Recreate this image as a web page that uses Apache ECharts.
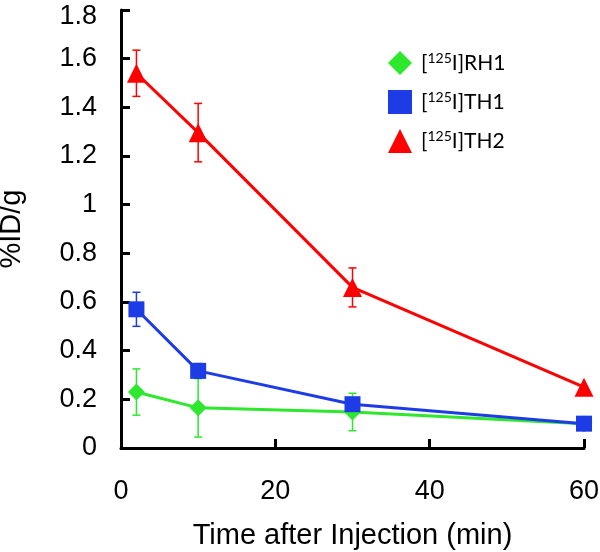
<!DOCTYPE html>
<html><head><meta charset="utf-8">
<script src="https://cdn.jsdelivr.net/npm/echarts@6/dist/echarts.min.js"></script>
<style>html,body{margin:0;padding:0;background:#fff}#c{width:600px;height:552px}</style>
</head><body><div id="c"></div>
<script>
const times = [2, 10, 30, 60];
const seriesNames = ['RH1', 'TH1', 'TH2'];
const rh1 = [0.23, 0.165, 0.148, 0.10];
const rh1Err = [0.095, 0.12, 0.077, 0];
const th1 = [0.57, 0.317, 0.18, 0.10];
const th1Err = [0.07, 0.03, 0.02, 0];
const th2 = [1.54, 1.296, 0.66, 0.25];
const th2Err = [0.095, 0.12, 0.08, 0];
const xTicks = [0, 20, 40, 60];
const yTicks = [0, 0.2, 0.4, 0.6, 0.8, 1, 1.2, 1.4, 1.6, 1.8];

const colors = ['#2de82d', '#1e3ce6', '#ff0000'];
const symbols = ['diamond', 'rect', 'triangle'];
const symSizes = [17, 16, 19];
const vals = [rh1, th1, th2];
const errs = [rh1Err, th1Err, th2Err];
const FONT = '"Liberation Sans", Arial, sans-serif';
const LFONT = 'Lato, "Liberation Sans", sans-serif';

const series = [];
vals.forEach((v, s) => {
  series.push({
    type: 'custom',
    z: 1,
    silent: true,
    clip: false,
    data: times.map((t, i) => [t, v[i] - errs[s][i], v[i] + errs[s][i]]),
    renderItem: function (params, api) {
      const lo = api.coord([api.value(0), api.value(1)]);
      const hi = api.coord([api.value(0), api.value(2)]);
      const hw = 4;
      const st = { stroke: colors[s], lineWidth: 1.5 };
      return {
        type: 'group',
        children: [
          { type: 'line', shape: { x1: lo[0], y1: lo[1], x2: hi[0], y2: hi[1] }, style: st },
          { type: 'line', shape: { x1: lo[0] - hw, y1: lo[1], x2: lo[0] + hw, y2: lo[1] }, style: st },
          { type: 'line', shape: { x1: hi[0] - hw, y1: hi[1], x2: hi[0] + hw, y2: hi[1] }, style: st }
        ]
      };
    }
  });
});
vals.forEach((v, s) => {
  series.push({
    name: seriesNames[s],
    type: 'line',
    z: 2 + s,
    clip: false,
    symbol: symbols[s],
    symbolSize: symSizes[s],
    data: times.map((t, i) => [t, v[i]]),
    itemStyle: { color: colors[s] },
    lineStyle: { color: colors[s], width: 3 },
    emphasis: { disabled: true }
  });
});

const chart = echarts.init(document.getElementById('c'), null, { renderer: 'canvas' });
chart.setOption({
  animation: false,
  backgroundColor: '#fff',
  grid: { left: 121, right: 16, top: 10, bottom: 104, containLabel: false, outerBoundsMode: 'none' },
  legend: {
    orient: 'vertical',
    left: 383,
    top: 46,
    itemWidth: 24,
    itemHeight: 24,
    itemGap: 15,
    selectedMode: false,
    data: seriesNames.map((n, s) => ({ name: n, icon: symbols[s], itemStyle: { color: colors[s] } })),
    formatter: n => '[{sup|125}I]' + n,
    textStyle: {
      fontFamily: LFONT, fontSize: 21, color: '#000', padding: [0, 0, 0, 4],
      rich: { sup: { fontFamily: LFONT, fontSize: 14, color: '#000', verticalAlign: 'top', padding: [0, 0, 10, 0] } }
    }
  },
  xAxis: {
    type: 'value',
    min: 0, max: 60, interval: 20,
    name: 'Time after Injection (min)',
    nameLocation: 'middle',
    nameGap: 73,
    nameTextStyle: { fontFamily: FONT, fontSize: 29, color: '#000' },
    axisLine: { show: true, lineStyle: { color: '#000', width: 3 } },
    axisTick: { show: true, inside: true, length: 9, lineStyle: { color: '#000', width: 3 } },
    axisLabel: { fontFamily: FONT, fontSize: 27, color: '#000', margin: 30,
      formatter: v => xTicks.includes(v) ? String(v) : '' },
    splitLine: { show: false }
  },
  yAxis: {
    type: 'value',
    min: 0, max: 1.8, interval: 0.2,
    name: '%ID/g',
    nameLocation: 'middle',
    nameGap: 95,
    nameRotate: 90,
    nameTextStyle: { fontFamily: FONT, fontSize: 29, color: '#000' },
    axisLine: { show: true, lineStyle: { color: '#000', width: 3 } },
    axisTick: { show: true, inside: true, length: 9, lineStyle: { color: '#000', width: 3 } },
    axisLabel: { fontFamily: FONT, fontSize: 27, color: '#000', margin: 24,
      rich: { top: { fontFamily: FONT, fontSize: 27, color: '#000', padding: [14, 0, 0, 0] } },
      formatter: v => {
        const m = yTicks.find(t => Math.abs(t - v) < 1e-6);
        if (m === undefined) return '';
        return m === yTicks[yTicks.length - 1] ? '{top|' + m + '}' : String(m);
      } },
    splitLine: { show: false }
  },
  series: series
});
</script>
</body></html>
